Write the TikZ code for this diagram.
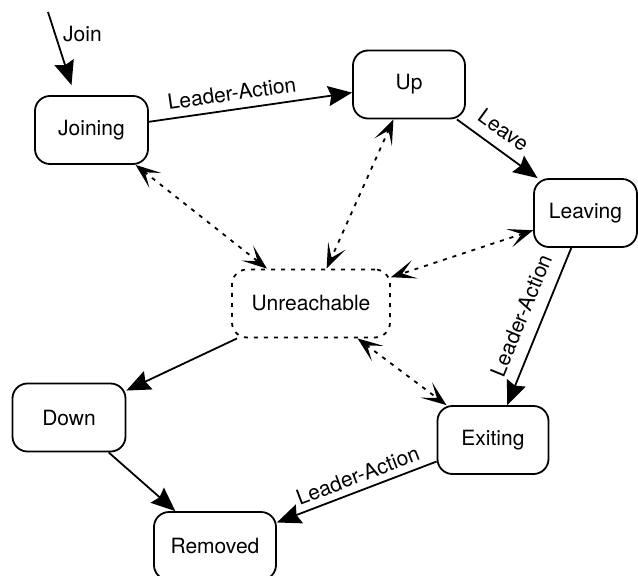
\documentclass[tikz,border=0pt]{standalone}
\usepackage{fontspec}
\setmainfont{TeX Gyre Heros}
\usetikzlibrary{arrows.meta}

\begin{document}
\begin{tikzpicture}[x=1pt,y=-1pt,
  every node/.style={font=\fontsize{21}{24}\selectfont},
  StateStyle/.style={draw, line width=1.8pt, rounded corners=15pt,
    minimum width=113pt, minimum height=68pt},
  EdgeStyle/.style={line width=1.8pt, -{Stealth[length=24pt,width=20pt,inset=3pt]}},
  LinkStyle/.style={line width=1.8pt, dash pattern=on 4pt off 6pt,
    {Stealth[length=25pt,width=19pt,inset=13pt]}-{Stealth[length=25pt,width=19pt,inset=13pt]}}]
\clip (0,0) rectangle (638,576);
\node[StateStyle] (Joining) at (91.5,130) {Joining};
\node[StateStyle,minimum width=112pt] (Up) at (409,84.5) {Up};
\node[StateStyle,minimum width=103pt] (Leaving) at (585.5,213) {Leaving};
\node[StateStyle,minimum width=158pt,dash pattern=on 4pt off 6pt] (Unreachable) at (311,303.5) {Unreachable};
\node[StateStyle] (Down) at (69,417.5) {Down};
\node[StateStyle,minimum width=111pt] (Exiting) at (493,440) {Exiting};
\node[StateStyle,minimum width=122pt] (Removed) at (215,546) {Removed};
\coordinate (start) at (48,12);
\node[inner sep=0,anchor=west] (join) at (63,34) {Join};
% transitions
\draw[EdgeStyle] (start) -- ([xshift=-20pt,yshift=10pt]Joining.north);
\draw[EdgeStyle] (Joining) -- node[pos=.42,sloped,above=4.5pt] {Leader-Action} (Up);
\draw[EdgeStyle] (Up) -- node[pos=.44,sloped,above=7pt] {Leave} (Leaving);
\draw[EdgeStyle] (Leaving) -- node[pos=.48,sloped,above=9pt] {Leader-Action} (Exiting);
\draw[EdgeStyle] (Exiting) -- node[pos=.46,sloped,above=3pt] {Leader-Action} (Removed);
\draw[EdgeStyle] (Unreachable) -- (Down);
\draw[EdgeStyle] (Down) -- (Removed);
% reachability
\draw[LinkStyle] (Joining) -- (Unreachable);
\draw[LinkStyle] (Up) -- (Unreachable);
\draw[LinkStyle] (Leaving) -- (Unreachable);
\draw[LinkStyle] (Unreachable) -- (Exiting);
\end{tikzpicture}
\end{document}
